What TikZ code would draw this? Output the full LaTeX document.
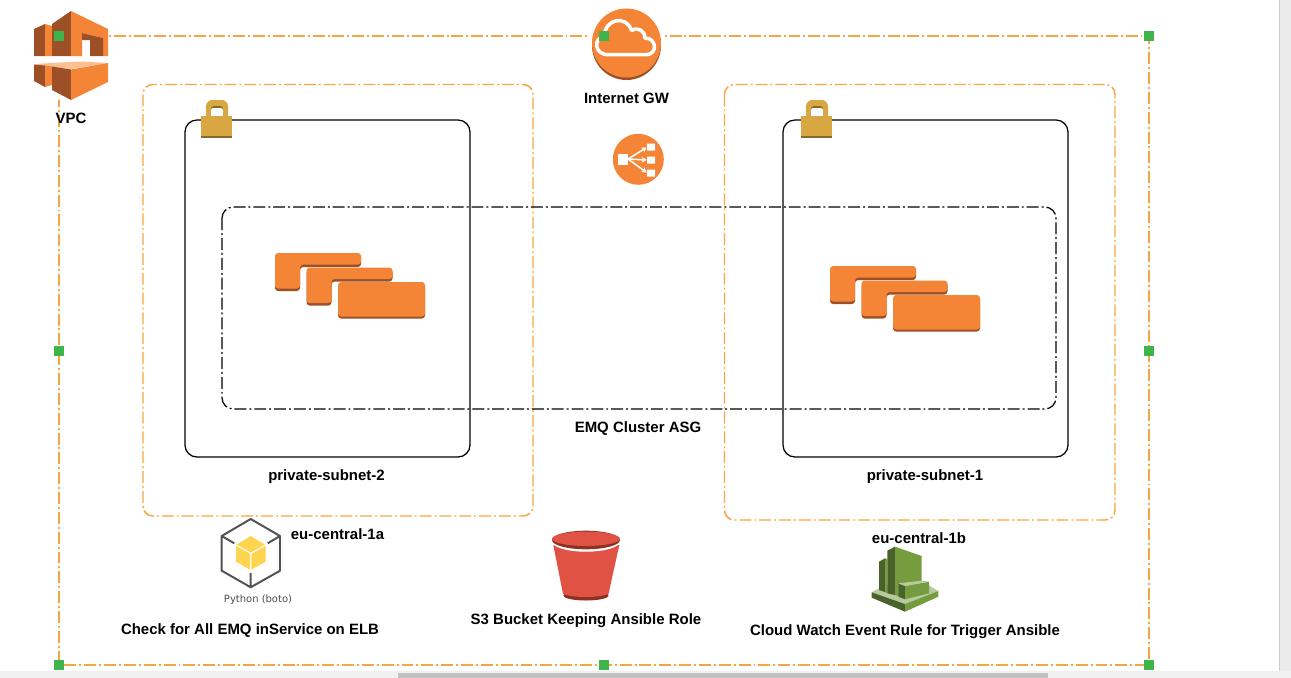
\documentclass[tikz,border=0pt]{standalone}
\usepackage{fontspec}
\usetikzlibrary{arrows.meta}
\setmainfont{Liberation Sans}
\newfontfamily\botofont{DejaVu Sans}
\definecolor{awsorange}{HTML}{F58536}
\definecolor{awsbrown}{HTML}{9D5025}
\definecolor{awspale}{HTML}{FBBF93}
\definecolor{zoneorange}{HTML}{F7A540}
\definecolor{lockgold}{HTML}{D9A741}
\definecolor{lockdark}{HTML}{876929}
\definecolor{bucketred}{HTML}{E05243}
\definecolor{bucketdark}{HTML}{8C3123}
\definecolor{cwgreen}{HTML}{759C3E}
\definecolor{cwdark}{HTML}{4B612C}
\definecolor{cwpale}{HTML}{B7CA9D}
\definecolor{cubegold}{HTML}{FFD44F}
\definecolor{handlegreen}{HTML}{3DB54A}
\def\xMid{604}
\def\xVpcL{59}
\def\xVpcR{1149}
\def\yVpcT{36}
\def\yVpcM{351}
\def\yVpcB{665}
\tikzset{
  vpcbox/.style={draw=zoneorange, line width=1.05pt, dash pattern=on 8.5pt off 2.1pt on 1.4pt off 2.1pt},
  zonebox/.style={vpcbox, rounded corners=7pt},
  subnetbox/.style={draw=black, line width=0.9pt, rounded corners=8.5pt},
  asgbox/.style={draw=black, line width=0.9pt, rounded corners=8pt, dash pattern=on 8.5pt off 2.1pt on 1.4pt off 2.1pt},
  awslbl/.style={font=\fontsize{10.65}{12}\selectfont\bfseries, inner sep=0pt, text=black},
  elbarrow/.style={white, line width=1.1pt, -{Stealth[length=3.5pt, width=4pt]}},
  handle/.style={fill=handlegreen, minimum size=7.1pt, inner sep=0pt},
}
\newcommand{\awsstepcard}[2]{%
  \fill[awsbrown, rounded corners=2.2pt] (#1,#2+2) -- ++(86,0) -- ++(0,12) -- ++(-61,0) -- ++(0,24) -- ++(-25,0) -- cycle;
  \fill[awsorange, rounded corners=2.2pt] (#1,#2) -- ++(86,0) -- ++(0,11.5) -- ++(-61,0) -- ++(0,24) -- ++(-25,0) -- cycle;}
\newcommand{\awsstack}[2]{%
  \begin{scope}[shift={(#1,#2)}]
    \awsstepcard{0}{0}
    \awsstepcard{31.5}{14.5}
    \fill[awsbrown, rounded corners=2.2pt] (63,31) rectangle (150,65.5);
    \fill[awsorange, rounded corners=2.2pt] (63,29) rectangle (150,63.5);
  \end{scope}}
\newcommand{\awslock}[2]{%
  \begin{scope}[shift={(#1,#2)}]
    \fill[lockgold, rounded corners=4.5pt] (206,125) -- (206,100) -- (228,100) -- (228,125) -- cycle;
    \fill[lockdark, rounded corners=2pt] (211,120) -- (211,106) -- (223,106) -- (223,120) -- cycle;
    \fill[white, rounded corners=1.5pt] (211,120) -- (211,108) -- (223,108) -- (223,120) -- cycle;
    \fill[lockgold] (201,116) rectangle (232,138);
    \fill[lockdark] (201,136.3) rectangle (232,138);
  \end{scope}}
\begin{document}
\begin{tikzpicture}[x=0.025cm, y=-0.025cm]
  \useasboundingbox (0,0) rectangle (1291,678);
  \fill[black!8] (1279,0) rectangle (1291,671);
  \fill[black!20] (1279,0) rectangle (1280,671);
  \fill[black!6] (0,671) rectangle (1291,678);
  \fill[black!24] (398,672.5) rectangle (1048,678);

  \draw[vpcbox] (\xVpcL,\yVpcT) rectangle (\xVpcR,\yVpcB);
  \draw[zonebox] (143,84.5) rectangle (533,516);
  \draw[zonebox] (724.5,84.5) rectangle (1115,520);
  \draw[subnetbox] (185,120) rectangle (470,457);
  \draw[subnetbox] (783,120) rectangle (1068,457);
  \draw[asgbox] (222,207) rectangle (1056,409);

  \fill[white] (34,11) rectangle (108,100);
  \fill[awsbrown] (34,29) -- (45,24) -- (45,56) -- (34,56) -- cycle;
  \fill[awsorange] (45,24) -- (52,26) -- (52,56) -- (45,56) -- cycle;
  \fill[awsbrown] (52,24) -- (71,11) -- (71,56) -- (52,56) -- cycle;
  \fill[awsorange] (71,11) -- (108,29) -- (108,56) -- (103,56) -- (103,38) -- (82,33) -- (82,56) -- (71,56) -- cycle;
  \fill[awsbrown] (82,33) -- (103,38) -- (103,56) -- (90,56) -- (90,40) -- (82,40) -- cycle;
  \fill[awspale] (34,64) -- (80,61.5) -- (108,63) -- (71,69) -- (52,67) -- cycle;
  \fill[awsbrown] (34,64.5) -- (45,65.5) -- (45,87) -- (34,81) -- cycle;
  \fill[awsorange] (45,65.5) -- (52,66.5) -- (52,85) -- (45,87) -- cycle;
  \fill[awsbrown] (52,66.5) -- (71,69.5) -- (71,100) -- (52,90) -- cycle;
  \fill[awsorange] (71,69.5) -- (108,63) -- (108,82) -- (71,100) -- cycle;
  \node[awslbl] (vpclbl) at (71,118.8) {VPC};

  \fill[white] (590,8) rectangle (663,81);
  \fill[awsbrown] (626.5,45.5) circle (34.5);
  \fill[awsorange] (626.5,43) circle (34.5);
  \draw[white, line width=2.5pt, line join=round, shift={(626.5,43)}]
    (-18.3,11.7) .. controls (-33,11.7) and (-33,-6) .. (-22.3,-6)
    .. controls (-22,-25) and (0,-28) .. (5,-12.7)
    .. controls (10,-16) and (19,-13) .. (18.3,-5)
    .. controls (31,-5) and (31,11.7) .. (19.7,11.7) -- cycle;
  \node[awslbl] (igwlbl) at (626.5,98.8) {Internet GW};

  \fill[awsorange] (638.3,159.3) circle (25.5);
  \draw[elbarrow] (628,159) -- (646.7,147.5);
  \draw[elbarrow] (628,159) -- (646.7,160);
  \draw[elbarrow] (628,159) -- (646.7,172.5);
  \fill[white] (618.3,154) rectangle (628.3,164.5);
  \fill[white] (647,143.5) rectangle (655,150.5) (647,156.5) rectangle (655,163.5) (647,169.5) rectangle (655,176.5);

  \awsstack{275}{253}
  \awsstack{830}{266}
  \awslock{0}{0}
  \awslock{600}{0}

  \node[awslbl] (subnet2lbl) at (326.5,476.6) {private-subnet-2};
  \node[awslbl] (subnet1lbl) at (925,476.6) {private-subnet-1};
  \node[awslbl] (asglbl) at (638,428.8) {EMQ Cluster ASG};
  \node[awslbl] (az1alabel) at (337.5,534.2) {eu-central-1a};
  \node[awslbl] (az1blabel) at (919,538.2) {eu-central-1b};

  \draw[black!68, line width=1.4pt, line join=round]
    (250.7,519) -- (280,536) -- (280,570.7) -- (250.7,587.3) -- (221.7,570.7) -- (221.7,536) -- cycle
    (221.7,536) -- (234.3,543.3) (280,536) -- (267.7,543.3) (250.7,587.3) -- (250.7,573);
  \fill[cubegold] (250.7,536) -- (265.7,545) -- (265.7,561.7) -- (250.7,570) -- (236,561.7) -- (236,545) -- cycle;
  \draw[white, line width=0.8pt] (236,545) -- (250.7,553.3) -- (265.7,545) (250.7,553.3) -- (250.7,570);
  \node[font=\botofont\fontsize{7.1}{8}\selectfont, text=black!70, inner sep=0pt] (botolbl) at (258,599.8) {Python (boto)};
  \node[awslbl] (checklbl) at (250,630.8) {Check for All EMQ inService on ELB};

  \fill[bucketdark] (586,595.5) ellipse (22.7 and 5);
  \fill[bucketred] (553.3,545) -- (563,594) .. controls (575,598) and (597,598) .. (608.5,594) -- (619.3,545) -- cycle;
  \fill[white] (586,541.5) ellipse (34 and 10.2);
  \fill[bucketdark] (586,540) ellipse (34 and 9.3);
  \fill[bucketred] (586,538.8) ellipse (34 and 7.2);
  \node[awslbl] (s3lbl) at (586,620.6) {S3 Bucket Keeping Ansible Role};

  \fill[cwpale] (871.7,592.3) -- (885,585) -- (925,583) -- (938.3,591) -- (905,604) -- cycle;
  \fill[cwdark] (871.7,592.3) -- (905,604) -- (905,611.7) -- (871.7,597.7) -- cycle;
  \fill[cwgreen] (905,604) -- (938.3,591) -- (938.3,596.7) -- (905,611.7) -- cycle;
  \fill[cwdark] (879,561.7) -- (885,558.3) -- (885,592) -- (879,590) -- cycle;
  \fill[cwgreen] (885,558.3) -- (887.3,559) -- (887.3,593) -- (885,592) -- cycle;
  \fill[cwdark] (887.3,550.7) -- (895,546.7) -- (895,595) -- (887.3,593.3) -- cycle;
  \fill[cwgreen] (895,546.7) -- (921.7,556) -- (921.7,582) -- (898.3,584) -- (898.3,596) -- (895,595) -- cycle;
  \fill[cwdark] (898.3,583.3) -- (905,586) -- (905,599.3) -- (898.3,596.7) -- cycle;
  \fill[cwgreen] (905,586) -- (929,581.7) -- (929,593.3) -- (905,599.3) -- cycle;
  \fill[cwpale] (898.3,583.3) -- (921.7,580.7) -- (929,581.7) -- (905,586) -- cycle;
  \node[awslbl] (cwlbl) at (905,631.6) {Cloud Watch Event Rule for Trigger Ansible};

  \foreach \hx/\hy/\hname in {\xVpcL/\yVpcT/a,\xMid/\yVpcT/b,\xVpcR/\yVpcT/c,\xVpcL/\yVpcM/d,\xVpcR/\yVpcM/e,\xVpcL/\yVpcB/f,\xMid/\yVpcB/g,\xVpcR/\yVpcB/h}
    \node[handle] (handle\hname) at (\hx,\hy) {};
\end{tikzpicture}
\end{document}
